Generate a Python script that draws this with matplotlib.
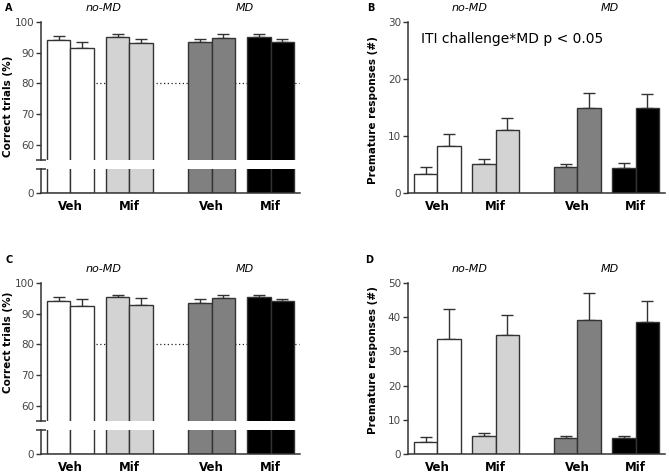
import matplotlib
matplotlib.use('Agg')
import matplotlib.pyplot as plt
import numpy as np

# groups (pairs of bars): baseline / challenge within each drug group
drug_labels = ['Veh', 'Mif', 'Veh', 'Mif']
cond_labels = ['no-MD', 'MD']
fill_colors = ['white', '#d3d3d3', '#808080', 'black']

# panel A - correct trials (%)
a_mean = [94.1, 91.6, 95.2, 93.2, 93.4, 94.8, 95.2, 93.5]
a_err = [1.3, 1.9, 0.8, 1.2, 1.1, 1.2, 0.8, 1.0]
# panel B - premature responses
b_mean = [3.4, 8.3, 5.1, 11.0, 4.5, 14.9, 4.4, 15.0]
b_err = [1.1, 2.0, 0.9, 2.2, 0.6, 2.6, 0.8, 2.4]
# panel C - correct trials (%)
c_mean = [94.0, 92.4, 95.3, 92.9, 93.5, 95.0, 95.3, 94.1]
c_err = [1.4, 2.4, 0.9, 2.1, 1.3, 1.0, 0.9, 0.8]
# panel D - premature responses
d_mean = [3.6, 33.5, 5.2, 34.7, 4.7, 39.2, 4.7, 38.6]
d_err = [1.3, 8.8, 1.0, 5.8, 0.5, 7.9, 0.7, 6.0]

W, H = 669, 475
fig = plt.figure(figsize=(W / 100, H / 100), dpi=100)

ECOL = '#333333'
TICKCOL = '#444444'

# bar positions: pairs with gaps, larger gap between no-MD and MD
x = []
pos = 0.0
for g in range(4):
    x += [pos, pos + 1]
    pos += 2.5 if g != 1 else 3.5
x = np.array(x)
bar_cols = [c for c in fill_colors for _ in range(2)]
pair_centers = [(x[2 * i] + x[2 * i + 1]) / 2 for i in range(4)]
cond_centers = [(pair_centers[0] + pair_centers[1]) / 2 + 0.15,
                (pair_centers[2] + pair_centers[3]) / 2 + 0.15]
XLIM = (-0.75, 10.25)


def rect(left, top, right, bottom):
    return [left / W, 1 - bottom / H, (right - left) / W, (bottom - top) / H]


def draw_bars(ax, mean, err):
    ax.bar(x, mean, width=1.0, color=bar_cols, edgecolor=ECOL, linewidth=1.0, zorder=2)
    ax.errorbar(x, mean, yerr=[np.zeros(len(err)), err], fmt='none', ecolor=ECOL,
                elinewidth=1.0, capsize=4.5, capthick=1.0, zorder=1)


def style_axis(ax):
    for s in ['top', 'right']:
        ax.spines[s].set_visible(False)
    for s in ['left', 'bottom']:
        ax.spines[s].set_color(ECOL)
        ax.spines[s].set_linewidth(1.1)
    ax.tick_params(axis='y', colors=ECOL, labelcolor=TICKCOL, labelsize=7.5,
                   length=3.5, width=1.0, pad=1.5)
    ax.set_xlim(*XLIM)


def bottom_labels(ax):
    ax.set_xticks(pair_centers)
    ax.set_xticklabels(drug_labels, fontsize=8.5, fontweight='bold')
    ax.tick_params(axis='x', length=0, pad=5)


def cond_titles(ax):
    for cx, lab in zip(cond_centers, cond_labels):
        ax.annotate(lab, xy=(cx, 1), xycoords=('data', 'axes fraction'),
                    xytext=(0, 10), textcoords='offset points',
                    ha='center', va='center', fontsize=8, style='italic')


def broken_panel(top, mean, err, label_y):
    up = fig.add_axes(rect(41, top, 300, top + 138))
    lo = fig.add_axes(rect(41, top + 147, 300, top + 171))
    for ax in (up, lo):
        draw_bars(ax, mean, err)
        style_axis(ax)
    up.hlines(80, 1.6, 10.2, colors='#222222', linestyles=(0, (1, 2)), linewidth=0.9, zorder=1.5)
    up.set_ylim(55, 100)
    up.set_yticks([60, 70, 80, 90, 100])
    up.spines['bottom'].set_visible(False)
    up.set_xticks([])
    lo.set_ylim(0, 8)
    lo.set_yticks([0])
    bottom_labels(lo)
    # end caps of the broken axis
    up.plot([XLIM[0]], [55], marker='_', markersize=7, mew=1.1, color=ECOL, clip_on=False)
    lo.plot([XLIM[0]], [8], marker='_', markersize=7, mew=1.1, color=ECOL, clip_on=False)
    cond_titles(up)
    fig.text(8 / W, 1 - label_y / H, 'Correct trials (%)', rotation=90, ha='center',
             va='center', fontsize=7.5, fontweight='bold')


def simple_panel(top, mean, err, ymax, step, label_y):
    ax = fig.add_axes(rect(408, top, 665, top + 171))
    draw_bars(ax, mean, err)
    style_axis(ax)
    ax.set_ylim(0, ymax)
    ax.set_yticks(np.arange(0, ymax + 1, step))
    bottom_labels(ax)
    cond_titles(ax)
    fig.text(373 / W, 1 - label_y / H, 'Premature responses (#)', rotation=90, ha='center',
             va='center', fontsize=7.5, fontweight='bold')
    return ax


broken_panel(22, a_mean, a_err, 106)
axB = simple_panel(22, b_mean, b_err, 30, 10, 110)
axB.text(0.05, 0.9, 'ITI challenge*MD p < 0.05', transform=axB.transAxes,
         fontsize=10, ha='left', va='center')
broken_panel(283, c_mean, c_err, 342)
simple_panel(283, d_mean, d_err, 50, 10, 360)

for lab, px, py in [('A', 5, 8), ('B', 367, 8), ('C', 5, 260), ('D', 365, 260)]:
    fig.text(px / W, 1 - py / H, lab, fontsize=7, fontweight='bold', ha='left', va='center')

fig.savefig('out.png', dpi=100)
